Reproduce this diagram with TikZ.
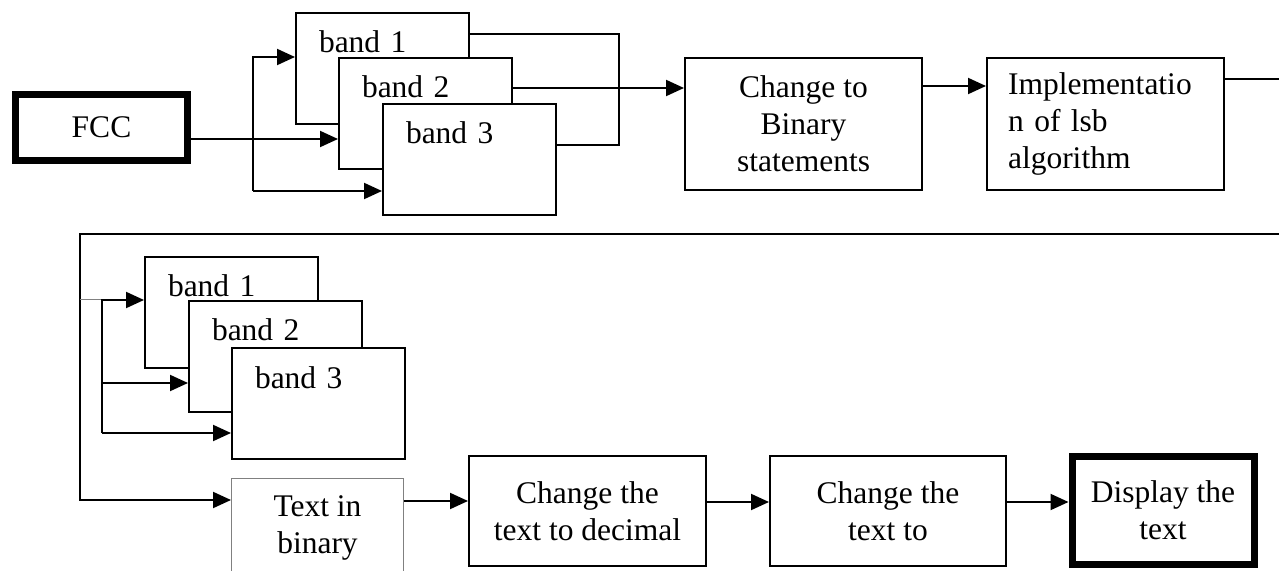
\documentclass[tikz,border=0pt]{standalone}
\usepackage{fontspec}
\setmainfont{Liberation Serif}
\usetikzlibrary{arrows.meta}

\tikzset{
  arr/.style={-{Triangle[length=9pt,width=8pt]}, line width=1pt},
  bandbox/.style={draw, line width=1pt, fill=white, anchor=north west, align=left,
    text width=63.5pt, inner xsep=11.5pt, inner ysep=0pt, text height=20pt, text depth=35.5pt},
  stepbox/.style={draw, line width=1pt, fill=white, anchor=north west, align=center,
    minimum width=118.5pt, minimum height=66pt, inner sep=0pt},
  endbox/.style={draw, line width=3.5pt, fill=white, align=center, inner sep=0pt}
}

\begin{document}
\begin{tikzpicture}[x=0.5pt, y=-0.5pt, font=\fontsize{15.75}{18.5}\selectfont]
  \useasboundingbox (0,0) rectangle (1279,571);
  % Nodes
  \node[endbox, minimum width=86pt, minimum height=33pt] (fcc) at (101.5,127.5) {FCC};
  \node[bandbox] (b_1) at (295,12) {band 1};
  \node[bandbox] (b_2) at (338,57) {band 2};
  \node[bandbox] (b_3) at (382,103) {band 3};
  \node[stepbox] (bin) at (684,57) {Change to\\Binary\\statements};
  \node[stepbox, align=left, text width=97.5pt, inner xsep=10.5pt] (lsb) at (986,57) {Implementatio\\n of lsb\\algorithm};

  \node[bandbox] (lb_1) at (144,256) {band 1};
  \node[bandbox] (lb_2) at (188,300) {band 2};
  \node[bandbox] (lb_3) at (231,347) {band 3};
  \node[draw=gray, line width=0.5pt, anchor=north west, align=center, inner sep=0pt,
    minimum width=86pt, minimum height=49pt] (tib) at (231,478) {Text in\\binary};
  \node[stepbox, minimum height=55pt] (dec) at (468,455) {Change the\\text to decimal};
  \node[stepbox, minimum width=118pt, minimum height=55pt] (txt) at (769,455) {Change the\\text to};
  \node[endbox, minimum width=91pt, minimum height=54pt] (disp) at (1163,510.5) {Display the\\text};

  % Edges
  \coordinate (fork) at (253,57);
  \coordinate (forkend) at (253,191);
  \draw[arr] (fcc.east |- 0,139) -- (b_2.west |- 0,139);
  \draw[arr] (forkend) -- (fork) -- (b_1.west |- fork);
  \draw[arr] (forkend) -- (b_3.west |- forkend);
  \draw[line width=1pt] (b_1.east |- 0,34) -- (619,34) -- (619,145) -- (b_3.east |- 0,145);
  \draw[arr] (b_2.east |- 0,88) -- (bin.west |- 0,88);
  \draw[arr] (bin.east |- 0,86) -- (lsb.west |- 0,86);
  \draw[arr] (lsb.east |- 0,79) -- (1300,79) -- (1300,234) -- (80,234) -- (80,500) -- (tib.west |- 0,500);

  \draw[gray, line width=0.5pt] (80,300) -- (102,300);
  \draw[arr] (102,433) -- (102,300) -- (lb_1.west |- 0,300);
  \draw[arr] (102,383) -- (lb_2.west |- 0,383);
  \draw[arr] (102,433) -- (lb_3.west |- 0,433);

  \draw[arr] (tib.east |- 0,501) -- (dec.west |- 0,501);
  \draw[arr] (dec.east |- 0,502) -- (txt.west |- 0,502);
  \draw[arr] (txt.east |- 0,502) -- (disp.west |- 0,502);
\end{tikzpicture}
\end{document}
